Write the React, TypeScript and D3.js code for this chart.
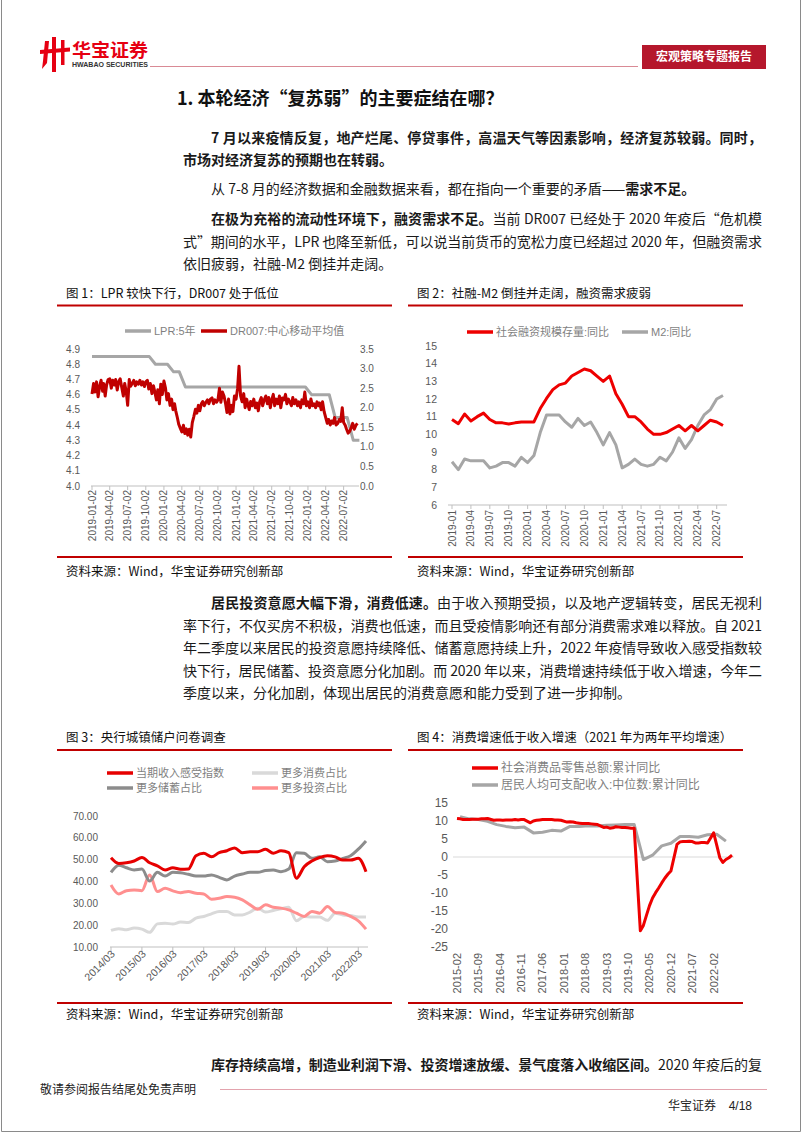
import * as d3 from 'd3'

const CJK = '"Noto Sans CJK SC", "Noto Sans", sans-serif'
const NUM = '"Liberation Sans", Arial, "Noto Sans CJK SC", sans-serif'
const AXIS = '#595959'
const LEG = '#7f7f7f'
const RULE = '#c00000'

// ---------- chart 1: LPR 5Y (left) & DR007 moving average (right) ----------
const c1Labels = ['2019-01-02', '2019-04-02', '2019-07-02', '2019-10-02', '2020-01-02', '2020-04-02', '2020-07-02', '2020-10-02', '2021-01-02', '2021-04-02', '2021-07-02', '2021-10-02', '2022-01-02', '2022-04-02', '2022-07-02']
// monthly LPR from 2019-01
const lprValues = [4.85, 4.85, 4.85, 4.85, 4.85, 4.85, 4.85, 4.85, 4.85, 4.85, 4.8, 4.8, 4.8, 4.75, 4.75, 4.65, 4.65, 4.65, 4.65, 4.65, 4.65, 4.65, 4.65, 4.65, 4.65, 4.65, 4.65, 4.65, 4.65, 4.65, 4.65, 4.65, 4.65, 4.65, 4.65, 4.65, 4.6, 4.6, 4.6, 4.6, 4.45, 4.45, 4.45, 4.3, 4.3]
// DR007, four readings per month from 2019-01
const drWeekly = [
  [2.35, 2.62, 2.4, 2.66], [2.28, 2.55, 2.7, 2.42], [2.62, 2.3, 2.58, 2.72], [2.74, 2.5, 2.7, 2.58],
  [2.72, 2.45, 2.66, 2.74], [2.52, 2.3, 2.62, 2.4], [2.06, 2.72, 2.55, 2.62], [2.7, 2.56, 2.66, 2.6],
  [2.7, 2.58, 2.66, 2.54], [2.66, 2.7, 2.48, 2.62], [2.36, 2.56, 2.4, 2.2], [2.46, 2.1, 2.6, 2.34],
  [2.68, 2.5, 2.2, 2.36], [2.06, 2.22, 1.95, 2.1], [1.92, 1.75, 1.58, 1.48], [1.38, 1.55, 1.34, 1.46],
  [1.3, 1.45, 1.25, 1.62], [1.78, 1.96, 1.86, 2.06], [1.92, 2.1, 2.16, 2.05], [2.14, 2.2, 2.1, 2.22],
  [2.25, 2.1, 2.2, 2.14], [2.2, 2.5, 2.14, 2.4], [2.3, 2.1, 1.88, 2.22], [1.84, 2.06, 1.9, 2.3],
  [2.22, 2.5, 3.06, 2.3], [2.15, 2.36, 2.0, 2.22], [2.1, 1.95, 2.16, 2.05], [2.22, 2.0, 2.12, 1.92],
  [2.15, 2.26, 2.05, 2.2], [2.3, 2.1, 2.26, 2.0], [2.2, 2.34, 2.05, 2.22], [2.1, 2.3, 2.0, 2.25],
  [2.2, 2.34, 2.1, 2.22], [2.15, 2.05, 2.26, 2.1], [2.2, 2.05, 2.15, 2.0], [2.2, 2.1, 2.4, 2.05],
  [2.15, 2.0, 2.22, 2.05], [2.1, 2.0, 2.15, 2.05], [2.12, 1.95, 2.15, 1.9], [1.75, 1.6, 1.7, 1.56],
  [1.66, 1.6, 1.75, 1.56], [1.6, 1.7, 1.65, 2.0], [1.62, 1.55, 1.45, 1.35], [1.4, 1.5, 1.6, 1.45],
  [1.55, 1.6],
]

// ---------- chart 2: TSF stock yoy & M2 yoy, monthly 2019-01..2022-08 ----------
const c2Labels = ['2019-01', '2019-04', '2019-07', '2019-10', '2020-01', '2020-04', '2020-07', '2020-10', '2021-01', '2021-04', '2021-07', '2021-10', '2022-01', '2022-04', '2022-07']
const tsfValues = [10.84, 10.6, 11.15, 10.76, 11.0, 11.2, 10.84, 10.65, 10.65, 10.58, 10.65, 10.7, 10.7, 10.7, 11.46, 12.03, 12.53, 12.8, 12.9, 13.3, 13.5, 13.7, 13.6, 13.3, 13.0, 13.3, 12.3, 11.7, 11.0, 11.0, 10.7, 10.3, 10.0, 10.0, 10.1, 10.3, 10.5, 10.2, 10.5, 10.2, 10.5, 10.8, 10.7, 10.5]
const m2Values = [8.45, 8.0, 8.6, 8.5, 8.5, 8.5, 8.1, 8.2, 8.4, 8.4, 8.2, 8.7, 8.4, 8.8, 10.1, 11.1, 11.1, 11.1, 10.7, 10.4, 10.9, 10.5, 10.7, 10.1, 9.4, 10.1, 9.4, 8.1, 8.3, 8.6, 8.3, 8.2, 8.3, 8.7, 8.5, 9.0, 9.8, 9.2, 9.7, 10.5, 11.1, 11.4, 12.0, 12.2]

// ---------- chart 3: PBoC urban depositor survey, quarterly 2014Q1..2022Q2 ----------
const c3Labels = ['2014/03', '2015/03', '2016/03', '2017/03', '2018/03', '2019/03', '2020/03', '2021/03', '2022/03']
const incomeIdx = [50.9, 48.3, 48.6, 49.4, 51.0, 48.6, 47.2, 45.3, 46.3, 45.6, 45.7, 51.8, 52.9, 51.3, 53.2, 54.1, 55.4, 53.2, 53.6, 53.6, 54.8, 52.9, 54.1, 53.2, 41.5, 46.8, 49.4, 51.0, 51.8, 51.3, 49.8, 49.8, 50.6, 44.5]
const saveShare = [44.2, 47.5, 46.3, 45.3, 45.7, 40.2, 44.2, 42.5, 44.2, 44.0, 43.3, 42.5, 42.5, 43.0, 41.9, 40.7, 42.5, 43.4, 44.2, 44.2, 45.0, 45.3, 44.5, 45.7, 53.2, 52.9, 50.6, 51.3, 49.1, 49.4, 50.6, 51.8, 54.8, 58.6]
const consumeShare = [17.6, 18.4, 17.9, 18.7, 18.2, 16.7, 20.6, 20.9, 20.5, 21.4, 21.2, 23.2, 24.0, 25.2, 26.3, 26.3, 24.7, 24.7, 26.0, 27.8, 26.0, 26.7, 27.5, 28.2, 22.0, 24.0, 23.7, 23.7, 22.2, 25.5, 24.7, 24.4, 23.7, 23.7]
const investShare = [38.4, 34.3, 35.8, 36.1, 35.8, 43.0, 35.4, 36.9, 35.7, 34.9, 35.4, 34.6, 34.3, 31.9, 32.3, 33.1, 32.8, 31.6, 29.3, 27.3, 29.3, 28.2, 27.8, 27.0, 25.5, 24.0, 26.3, 25.5, 28.5, 25.8, 25.5, 24.0, 22.0, 18.2]

// ---------- chart 4: retail sales ytd yoy (monthly from 2015-02) & median income ytd yoy (quarterly) ----------
const c4Labels = ['2015-02', '2015-09', '2016-04', '2016-11', '2017-06', '2018-01', '2018-08', '2019-03', '2019-10', '2020-05', '2020-12', '2021-07', '2022-02']
const retailValues: (number | null)[] = [
  10.7, 10.6, 10.4, 10.4, 10.4, 10.5, 10.5, 10.5, 10.6, 10.6, 10.7,
  null, 10.2, 10.3, 10.3, 10.2, 10.3, 10.3, 10.3, 10.4, 10.3, 10.4, 10.4,
  null, 9.5, 10.0, 10.2, 10.3, 10.4, 10.4, 10.4, 10.4, 10.3, 10.3, 10.2,
  null, 9.7, 9.8, 9.7, 9.5, 9.4, 9.3, 9.3, 9.3, 9.2, 9.1, 9.0,
  null, 8.2, 8.3, 8.0, 8.1, 8.4, 8.3, 8.2, 8.2, 8.1, 8.0, 8.0,
  null, -20.5, -19.0, -16.2, -13.5, -11.4, -9.9, -8.6, -7.2, -5.9, -4.8, -3.9,
  null, 3.5, 4.2, 4.3, 4.3, 4.4, 4.3, 3.9, 3.9, 4.0, 4.0, 3.9,
  null, 6.7, 3.3, -0.2, -1.5, -0.7, -0.2, 0.5,
]
// quarterly, first reading 2015-03
const incomeMedian = [11.2, 10.6, 10.4, 9.9, 9.0, 8.5, 8.1, 8.3, 6.7, 6.9, 7.4, 7.2, 8.5, 8.5, 8.7, 8.6, 8.8, 8.9, 9.0, 9.0, -0.7, 0.5, 3.1, 3.8, 5.7, 5.7, 5.5, 6.2, 6.3, 4.4]

type Seg = { t: string; b?: boolean }

function TLine({ x, y, w, segs, size = 14 }: { x: number; y: number; w?: number; segs: Seg[]; size?: number }) {
  return (
    <text x={x} y={y} fontSize={size} fontFamily={CJK} fill="#1a1a1a" textLength={w} lengthAdjust={w ? 'spacing' : undefined}>
      {segs.map((s, i) => (
        <tspan key={i} fontWeight={s.b ? 700 : 400}>{s.t}</tspan>
      ))}
    </text>
  )
}

function LegendItem({ x, y, color, label, size = 11 }: { x: number; y: number; color: string; label: string; size?: number }) {
  return (
    <g>
      <line x1={x} x2={x + 26} y1={y} y2={y} stroke={color} strokeWidth={3.5} />
      <text x={x + 29} y={y} dy="0.35em" fontSize={size} fontFamily={NUM} fill={LEG}>{label}</text>
    </g>
  )
}

function Frame({ x0, x1, titleY, title, ruleY, srcY }: { x0: number; x1: number; titleY: number; title: string; ruleY: number; srcY: number }) {
  return (
    <g>
      <text x={x0 + 9} y={titleY} fontSize={12.5} fontFamily={CJK} fill="#111">{title}</text>
      <line x1={x0} x2={x1} y1={titleY + 8} y2={titleY + 8} stroke={RULE} strokeWidth={2} />
      <line x1={x0} x2={x1} y1={ruleY} y2={ruleY} stroke={RULE} strokeWidth={2} />
      <text x={x0 + 9} y={srcY} fontSize={12.5} fontFamily={CJK} fill="#111">资料来源：Wind，华宝证券研究创新部</text>
    </g>
  )
}

function Chart1() {
  const parse = d3.timeParse('%Y-%m-%d')
  const x = d3.scaleTime().domain([new Date(2019, 0, 2), new Date(2022, 8, 18)]).range([92, 359])
  const yL = d3.scaleLinear().domain([4.0, 4.9]).range([486, 349])
  const yR = d3.scaleLinear().domain([0, 3.5]).range([486, 349])
  const lpr = lprValues.map((v, m) => ({ date: new Date(2019, m, m === 0 ? 2 : 20), v }))
  const dr = drWeekly.flatMap((row, m) => row.map((v, k) => ({ date: new Date(2019, m, Math.round(2 + k * 7.5)), v })))
  const lineL = d3.line<{ date: Date; v: number }>().x((d) => x(d.date)).y((d) => yL(d.v))
  const lineR = d3.line<{ date: Date; v: number }>().x((d) => x(d.date)).y((d) => yR(d.v))
  const f1 = d3.format('.1f')
  return (
    <g>
      <Frame x0={57} x1={392} titleY={297.5} title="图 1：LPR 较快下行，DR007 处于低位" ruleY={557} srcY={575.5} />
      <LegendItem x={125} y={331} color="#a6a6a6" label="LPR:5年" size={11} />
      <LegendItem x={201} y={331} color={RULE} label="DR007:中心移动平均值" size={11} />
      {yL.ticks(9).map((t) => (
        <text key={t} x={80} y={yL(t)} dy="0.35em" textAnchor="end" fontSize={10} fontFamily={NUM} fill={AXIS}>{f1(t)}</text>
      ))}
      {yR.ticks(7).map((t) => (
        <text key={t} x={360} y={yR(t)} dy="0.35em" fontSize={10} fontFamily={NUM} fill={AXIS}>{f1(t)}</text>
      ))}
      <line x1={91} x2={359} y1={486} y2={486} stroke="#bfbfbf" strokeWidth={1} />
      {c1Labels.map((l) => {
        const px = x(parse(l) as Date)
        return (
          <g key={l}>
            <line x1={px} x2={px} y1={486} y2={490} stroke="#bfbfbf" />
            <text transform={`translate(${px},490) rotate(-90)`} dy="0.35em" textAnchor="end" fontSize={10} fontFamily={NUM} fill={AXIS}>{l}</text>
          </g>
        )
      })}
      <path d={lineL(lpr) || ''} fill="none" stroke="#a6a6a6" strokeWidth={3} strokeLinejoin="round" />
      <path d={lineR(dr) || ''} fill="none" stroke={RULE} strokeWidth={3} strokeLinejoin="round" />
    </g>
  )
}

function Chart2() {
  const x = d3.scaleLinear().domain([0, tsfValues.length - 1]).range([452, 723])
  const y = d3.scaleLinear().domain([6, 15]).range([505, 346])
  const line = d3.line<number>().x((_, i) => x(i)).y((d) => y(d))
  return (
    <g>
      <Frame x0={408} x1={743} titleY={297.5} title="图 2：社融-M2 倒挂并走阔，融资需求疲弱" ruleY={557} srcY={575.5} />
      <LegendItem x={467} y={332} color="#ee0000" label="社会融资规模存量:同比" />
      <LegendItem x={622} y={332} color="#a6a6a6" label="M2:同比" />
      {y.ticks(9).map((t) => (
        <text key={t} x={437} y={y(t)} dy="0.35em" textAnchor="end" fontSize={10.5} fontFamily={NUM} fill={AXIS}>{t}</text>
      ))}
      <line x1={448} x2={727} y1={505} y2={505} stroke="#bfbfbf" />
      {c2Labels.map((l, i) => {
        const px = x(i * 3)
        return (
          <g key={l}>
            <line x1={px} x2={px} y1={505} y2={509} stroke="#bfbfbf" />
            <text transform={`translate(${px},510) rotate(-90)`} dy="0.35em" textAnchor="end" fontSize={10} fontFamily={NUM} fill={AXIS}>{l}</text>
          </g>
        )
      })}
      <path d={line(m2Values) || ''} fill="none" stroke="#a6a6a6" strokeWidth={3} strokeLinejoin="round" />
      <path d={line(tsfValues) || ''} fill="none" stroke="#ee0000" strokeWidth={3} strokeLinejoin="round" />
    </g>
  )
}

function Chart3() {
  const x = d3.scaleLinear().domain([0, incomeIdx.length - 1]).range([111, 366])
  const y = d3.scaleLinear().domain([10, 70]).range([947, 816])
  const line = d3.line<number>().x((_, i) => x(i)).y((d) => y(d)).curve(d3.curveMonotoneX)
  const f2 = d3.format('.2f')
  return (
    <g>
      <Frame x0={57} x1={392} titleY={742} title="图 3：央行城镇储户问卷调查" ruleY={1003} srcY={1018.5} />
      <LegendItem x={107} y={773} color="#e60000" label="当期收入感受指数" />
      <LegendItem x={252} y={773} color="#d9d9d9" label="更多消费占比" />
      <LegendItem x={107} y={788} color="#8c8c8c" label="更多储蓄占比" />
      <LegendItem x={252} y={788} color="#ff8f8f" label="更多投资占比" />
      {y.ticks(6).map((t) => (
        <text key={t} x={98} y={y(t)} dy="0.35em" textAnchor="end" fontSize={10} fontFamily={NUM} fill={AXIS}>{f2(t)}</text>
      ))}
      <line x1={110} x2={368} y1={947} y2={947} stroke="#bfbfbf" />
      {c3Labels.map((l, i) => {
        const px = x(i * 4)
        return (
          <g key={l}>
            <line x1={px} x2={px} y1={947} y2={951} stroke="#bfbfbf" />
            <text transform={`translate(${px + 2},952) rotate(-45)`} dy="0.35em" textAnchor="end" fontSize={10.5} fontFamily={NUM} fill={AXIS}>{l}</text>
          </g>
        )
      })}
      <path d={line(consumeShare) || ''} fill="none" stroke="#d9d9d9" strokeWidth={3} />
      <path d={line(investShare) || ''} fill="none" stroke="#ff8f8f" strokeWidth={3} />
      <path d={line(saveShare) || ''} fill="none" stroke="#8c8c8c" strokeWidth={3} />
      <path d={line(incomeIdx) || ''} fill="none" stroke="#e60000" strokeWidth={3} />
    </g>
  )
}

function Chart4() {
  const x = d3.scaleLinear().domain([0, retailValues.length - 1]).range([457, 732])
  const y = d3.scaleLinear().domain([-25, 15]).range([947, 803])
  const retail = retailValues.map((v, i) => ({ i, v })).filter((d) => d.v !== null) as { i: number; v: number }[]
  const income = incomeMedian.map((v, k) => ({ i: 1 + k * 3, v }))
  const line = d3.line<{ i: number; v: number }>().x((d) => x(d.i)).y((d) => y(d.v))
  return (
    <g>
      <Frame x0={408} x1={743} titleY={742} title="图 4：消费增速低于收入增速（2021 年为两年平均增速）" ruleY={1003} srcY={1018.5} />
      <LegendItem x={472} y={768} color="#ee0000" label="社会消费品零售总额:累计同比" size={12} />
      <LegendItem x={472} y={785} color="#a6a6a6" label="居民人均可支配收入:中位数:累计同比" size={12} />
      {y.ticks(8).map((t) => (
        <text key={t} x={448} y={y(t)} dy="0.35em" textAnchor="end" fontSize={12} fontFamily={NUM} fill={AXIS}>{t}</text>
      ))}
      <line x1={453} x2={734} y1={y(0)} y2={y(0)} stroke="#d9d9d9" />
      {c4Labels.map((l, k) => {
        const px = x(k * 7)
        return (
          <text key={l} transform={`translate(${px},953) rotate(-90)`} dy="0.35em" textAnchor="end" fontSize={11} fontFamily={NUM} fill={AXIS}>{l}</text>
        )
      })}
      <path d={line(income) || ''} fill="none" stroke="#a6a6a6" strokeWidth={3} strokeLinejoin="round" />
      <path d={line(retail) || ''} fill="none" stroke="#ee0000" strokeWidth={3} strokeLinejoin="round" />
    </g>
  )
}

function Header() {
  return (
    <g>
      <g fill="#e60012">
        <path d="M40 50 L70 47.5 L70 51.5 L40 54 Z" />
        <rect x={52} y={37} width={4} height={35} />
        <rect x={61} y={40} width={3.5} height={25} />
        <path d="M45 41 L49 41 L47 63 L42 69 L43 61 Z" />
      </g>
      <text x={72} y={57} fontSize={18} fontWeight={700} fontFamily={CJK} fill="#e60012" textLength={76} lengthAdjust="spacingAndGlyphs">华宝证券</text>
      <text x={72} y={67} fontSize={7} fontWeight={700} fontFamily={NUM} fill="#333" textLength={76} lengthAdjust="spacingAndGlyphs">HWABAO SECURITIES</text>
      <line x1={150} x2={638} y1={66.5} y2={66.5} stroke="#d98a95" strokeWidth={1} />
      <rect x={642} y={45} width={124} height={24} fill="#b5172c" />
      <text x={704} y={57} dy="0.36em" textAnchor="middle" fontSize={12} fontWeight={700} fontFamily={CJK} fill="#fff">宏观策略专题报告</text>
    </g>
  )
}

function Body() {
  const L = 183
  const R = 762
  const I = L + 28
  return (
    <g>
      <text x={L - 6} y={104.5} fontSize={18} fontWeight={700} fontFamily={CJK} fill="#111">1. 本轮经济“复苏弱”的主要症结在哪？</text>
      <TLine x={I} y={143} w={R - I} segs={[{ t: '7 月以来疫情反复，地产烂尾、停贷事件，高温天气等因素影响，经济复苏较弱。同时，', b: true }]} />
      <TLine x={L} y={165} segs={[{ t: '市场对经济复苏的预期也在转弱。', b: true }]} />
      <TLine x={I} y={194} segs={[{ t: '从 7-8 月的经济数据和金融数据来看，都在指向一个重要的矛盾——' }, { t: '需求不足。', b: true }]} />
      <TLine x={I} y={224} w={R - I} segs={[{ t: '在极为充裕的流动性环境下，融资需求不足。', b: true }, { t: '当前 DR007 已经处于 2020 年疫后“危机模' }]} />
      <TLine x={L} y={247} w={R - L} segs={[{ t: '式”期间的水平，LPR 也降至新低，可以说当前货币的宽松力度已经超过 2020 年，但融资需求' }]} />
      <TLine x={L} y={269} segs={[{ t: '依旧疲弱，社融-M2 倒挂并走阔。' }]} />

      <TLine x={I} y={608} w={R - I} segs={[{ t: '居民投资意愿大幅下滑，消费低速。', b: true }, { t: '由于收入预期受损，以及地产逻辑转变，居民无视利' }]} />
      <TLine x={L} y={631} w={R - L} segs={[{ t: '率下行，不仅买房不积极，消费也低速，而且受疫情影响还有部分消费需求难以释放。自 2021' }]} />
      <TLine x={L} y={653} w={R - L} segs={[{ t: '年二季度以来居民的投资意愿持续降低、储蓄意愿持续上升，2022 年疫情导致收入感受指数较' }]} />
      <TLine x={L} y={676} w={R - L} segs={[{ t: '快下行，居民储蓄、投资意愿分化加剧。而 2020 年以来，消费增速持续低于收入增速，今年二' }]} />
      <TLine x={L} y={698} segs={[{ t: '季度以来，分化加剧，体现出居民的消费意愿和能力受到了进一步抑制。' }]} />

      <TLine x={I} y={1070} w={R - I} segs={[{ t: '库存持续高增，制造业利润下滑、投资增速放缓、景气度落入收缩区间。', b: true }, { t: '2020 年疫后的复' }]} />
    </g>
  )
}

function Footer() {
  return (
    <g>
      <text x={40} y={1094} fontSize={12} fontFamily={CJK} fill="#222">敬请参阅报告结尾处免责声明</text>
      <line x1={220} x2={767} y1={1089.5} y2={1089.5} stroke="#e3a3ad" strokeWidth={1.2} />
      <text x={668} y={1110} fontSize={12} fontFamily={CJK} fill="#222">华宝证券</text>
      <text x={752} y={1110} textAnchor="end" fontSize={12} fontFamily={NUM} fill="#222">4/18</text>
      <line x1={1.5} x2={1.5} y1={0} y2={1131.5} stroke="#8a8a8a" />
      <line x1={800.5} x2={800.5} y1={0} y2={1131.5} stroke="#8a8a8a" />
      <line x1={1.5} x2={800.5} y1={1131.5} y2={1131.5} stroke="#8a8a8a" />
    </g>
  )
}

export default function App() {
  return (
    <svg width={802} height={1133} viewBox="0 0 802 1133" style={{ position: 'absolute', left: 0, top: 0, background: '#fff' }}>
      <rect width={802} height={1133} fill="#fff" />
      <Header />
      <Body />
      <Chart1 />
      <Chart2 />
      <Chart3 />
      <Chart4 />
      <Footer />
    </svg>
  )
}
